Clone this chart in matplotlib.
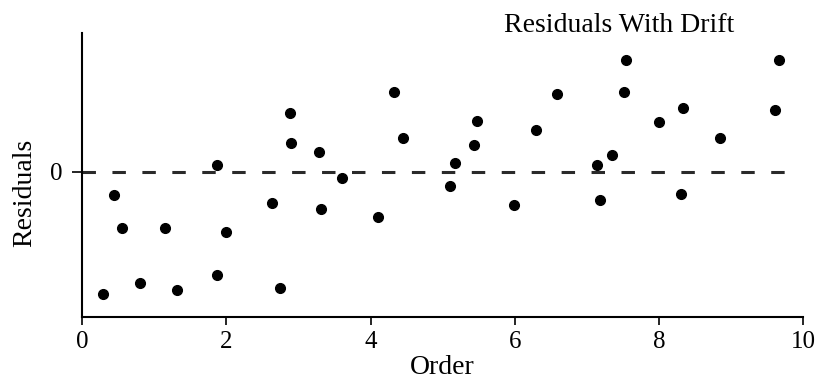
import numpy as np
import matplotlib.pyplot as plt

# run order and residual for each observation
order = [0.29, 0.44, 0.56, 0.81, 1.15, 1.32, 1.87, 1.87, 2.00, 2.63,
         2.74, 2.88, 2.90, 3.29, 3.31, 3.61, 4.11, 4.32, 4.45, 5.10,
         5.17, 5.43, 5.48, 5.99, 6.29, 6.58, 7.14, 7.18, 7.35, 7.52,
         7.54, 8.00, 8.30, 8.33, 8.85, 9.61, 9.67]
resid = [-2.45, -0.47, -1.12, -2.22, -1.12, -2.37, -2.07, 0.13, -1.21, -0.63,
         -2.33, 1.17, 0.57, 0.40, -0.74, -0.13, -0.91, 1.59, 0.67, -0.28,
         0.18, 0.54, 1.01, -0.66, 0.83, 1.56, 0.14, -0.57, 0.33, 1.59,
         2.23, 0.99, -0.45, 1.28, 0.67, 1.24, 2.23]
xticks = [0, 2, 4, 6, 8, 10]

plt.rcParams['font.family'] = ['Liberation Serif', 'DejaVu Serif']

fig = plt.figure(figsize=(8.17, 3.81), dpi=100)
ax = fig.add_axes([82 / 817, 64.3 / 381, (803.3 - 82) / 817, (316.7 - 33) / 381])

# zero reference line
ax.axhline(0, xmin=0, xmax=0.982, color='#2a2a2a', lw=2.2, ls=(0, (4.4, 5.4)), zorder=1)
ax.plot(order, resid, 'o', color='black', ms=7, zorder=2)

ax.set_xlim(0, 10)
ax.set_ylim(-2.9, 2.774)
ax.set_xticks(xticks)
ax.set_xticklabels([str(t) for t in xticks])
ax.set_yticks([0])
ax.set_yticklabels(['0'])
ax.tick_params(axis='x', labelsize=18, length=6, width=1.2, pad=4, colors='black')
ax.tick_params(axis='y', labelsize=18, length=7, width=1.2, pad=7, colors='black')

for side in ['top', 'right']:
    ax.spines[side].set_visible(False)
for side in ['left', 'bottom']:
    ax.spines[side].set_linewidth(1.5)

ax.set_xlabel('Order', fontsize=20, labelpad=2)
ax.set_ylabel('Residuals', fontsize=20)
ax.yaxis.set_label_coords(-0.062, 0.436)

fig.text(619 / 817, 1 - 25 / 381, 'Residuals With Drift', fontsize=20,
         ha='center', va='center')

fig.savefig('out.png', dpi=100, facecolor='white')
